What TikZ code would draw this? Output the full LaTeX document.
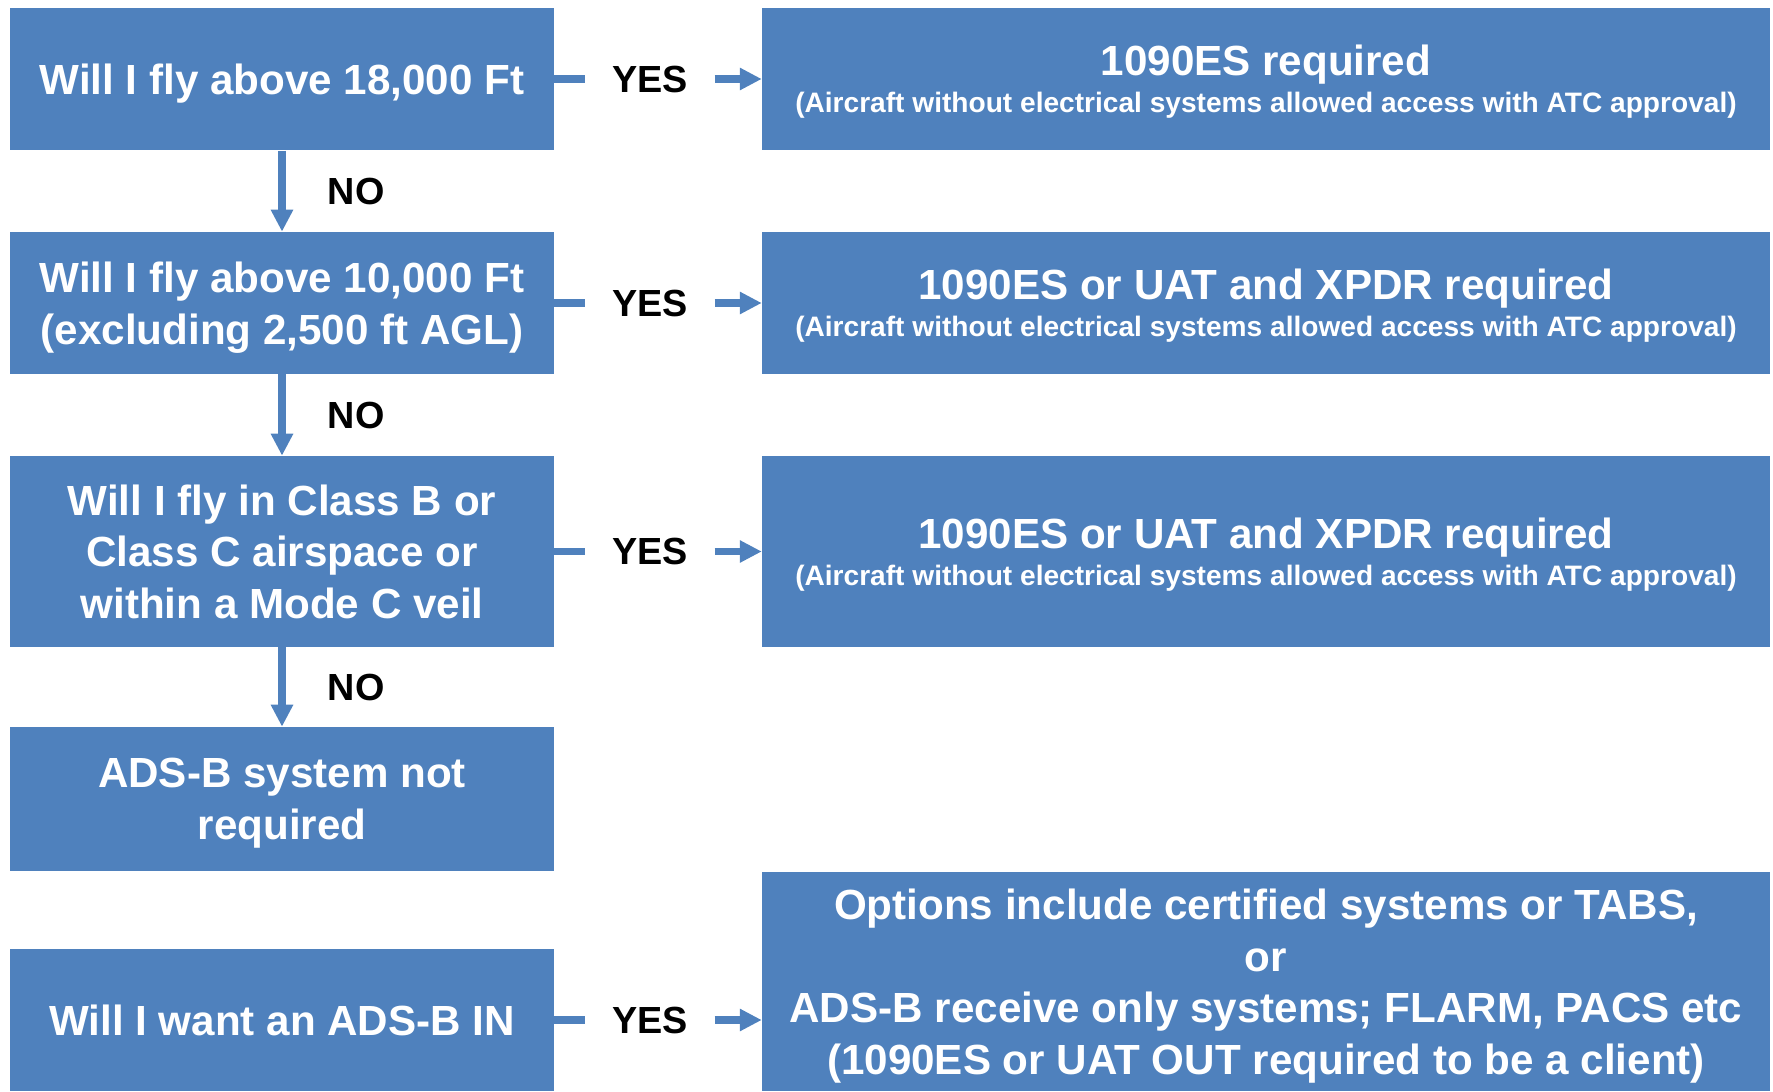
\documentclass[tikz,border=0pt]{standalone}
\usepackage{fontspec}
\setmainfont{Liberation Sans}
\usetikzlibrary{arrows.meta}

\definecolor{boxblue}{RGB}{79,129,189}
\newcommand{\subline}{\fontsize{16}{21}\selectfont}

\tikzset{
  qbox/.style={fill=boxblue, text=white, inner sep=0pt, align=center,
    text depth=0pt,
    minimum width=10.88cm, font=\fontsize{24}{29.3}\selectfont\bfseries},
  abox/.style={qbox, minimum width=20.16cm},
  lbl/.style={text=black, inner sep=0pt, font=\fontsize{21.5}{26}\selectfont\bfseries},
  yeslbl/.style={lbl, inner xsep=0.53cm},
  flow/.style={draw=boxblue, line width=4.5pt},
  flowarr/.style={flow, -{Triangle[length=12.5pt,width=12pt]}},
}

\begin{document}
\begin{tikzpicture}[x=0.02cm, y=-0.02cm]
    \useasboundingbox (0,0) rectangle (1773,1091);
    % questions
    \node[qbox, minimum height=2.86cm] (q1) at (282,79) {Will I fly above 18,000 Ft};
    \node[qbox, minimum height=2.84cm] (q2) at (282,303) {Will I fly above 10,000 Ft\\(excluding 2,500 ft AGL)};
    \node[qbox, minimum height=3.82cm] (q3) at (282,551.5) {Will I fly in Class B or\\Class C airspace or\\within a Mode C veil};
    \node[qbox, minimum height=2.88cm] (q4) at (282,799) {ADS-B system not\\required};
    \node[qbox, minimum height=2.84cm] (q5) at (282,1020) {Will I want an ADS-B IN};
    % answers
    \node[abox, minimum height=2.86cm] (a1) at (1266,79) {1090ES required\\[-8pt]\subline (Aircraft without electrical systems allowed access with ATC approval)};
    \node[abox, minimum height=2.84cm] (a2) at (1266,303) {1090ES or UAT and XPDR required\\[-8pt]\subline (Aircraft without electrical systems allowed access with ATC approval)};
    \node[abox, minimum height=3.82cm] (a3) at (1266,551.5) {1090ES or UAT and XPDR required\\[-8pt]\subline (Aircraft without electrical systems allowed access with ATC approval)};
    \node[abox, minimum height=4.38cm] (a5) at (1266,981.5) {Options include certified systems or TABS,\\or\\ADS-B receive only systems; FLARM, PACS etc\\(1090ES or UAT OUT required to be a client)};
    % yes labels
    \node[yeslbl] (y1) at (650,79) {YES};
    \node[yeslbl] (y2) at (650,303) {YES};
    \node[yeslbl] (y3) at (650,551.5) {YES};
    \node[yeslbl] (y5) at (650,1020) {YES};
    % no branches
    \draw[flowarr] (q1) -- node[lbl, right=0.84cm] (n1) {NO} (q2);
    \draw[flowarr] (q2) -- node[lbl, right=0.84cm] (n2) {NO} (q3);
    \draw[flowarr] (q3) -- node[lbl, right=0.84cm] (n3) {NO} (q4);
    % yes branches
    \draw[flow] (q1) -- (y1);
    \draw[flowarr] (y1) -- (a1);
    \draw[flow] (q2) -- (y2);
    \draw[flowarr] (y2) -- (a2);
    \draw[flow] (q3) -- (y3);
    \draw[flowarr] (y3) -- (a3);
    \draw[flow] (q5) -- (y5);
    \draw[flowarr] (y5) -- (y5 -| a5.west);
\end{tikzpicture}
\end{document}
